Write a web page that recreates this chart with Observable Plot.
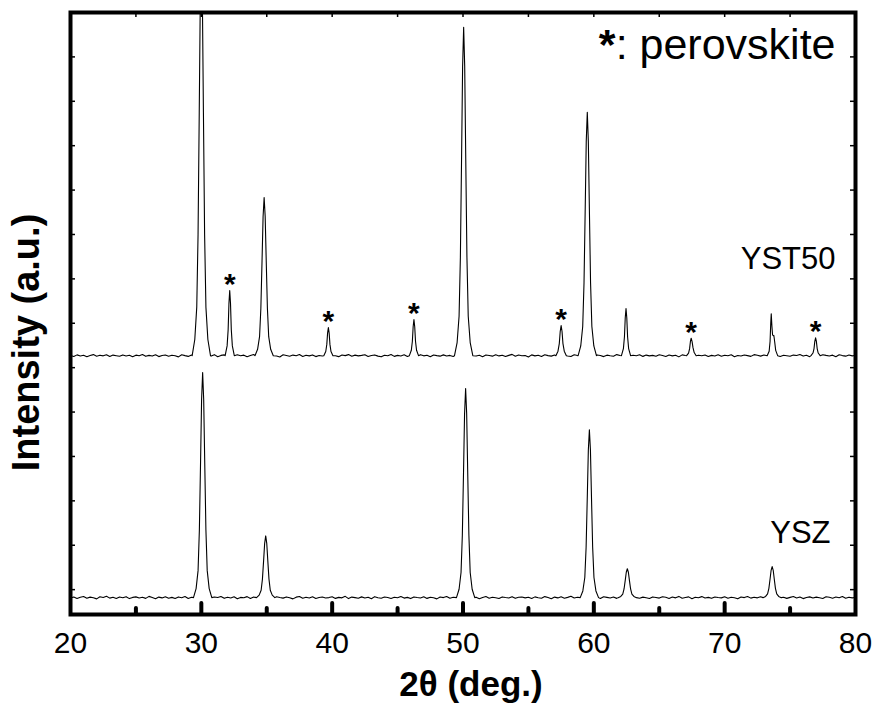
<!DOCTYPE html>
<html><head><meta charset="utf-8">
<script src="https://cdn.jsdelivr.net/npm/d3@7"></script>
<script src="https://cdn.jsdelivr.net/npm/@observablehq/plot@0.6"></script>
<style>body{margin:0;background:#fff}</style>
</head><body><div id="chart"></div>
<script>
// ---- data ----
const seriesNames = ["YSZ", "YST50"];
const yst50Offset = 5450;          // vertical stacking offset for YST50 (a.u.)
const baselineStart = 20, baselineStep = 0.25;  // 2θ grid of the baseline readings

const yszBaseline = [
372,395,360,388,405,366,391,378,352,399,383,410,369,387,361,394,376,402,358,385,
397,371,389,363,408,381,355,392,374,401,367,386,359,396,379,404,362,390,373,384,
368,399,377,356,393,382,407,364,388,371,398,353,385,376,403,361,392,380,366,395,
374,389,357,401,383,369,396,378,352,391,406,365,387,372,399,360,384,394,370,381,
398,363,386,375,409,358,392,380,367,397,373,388,354,402,379,366,393,384,361,390,
377,405,369,386,358,396,382,371,400,363,389,376,352,394,381,407,365,388,374,397,
362,385,399,370,391,356,383,404,368,390,377,359,396,382,371,402,364,387,393,375,
388,361,397,379,366,403,384,357,392,374,399,368,386,410,372,389,355,395,381,367,
394,376,359,401,385,370,392,363,398,380,356,389,373,405,367,391,378,360,396,383,
369,400,387,362,393,375,408,366,384,397,357,390,379,403,371,386,364,395,382,374,
398,365,389,377,353,394,381,406,369,388,375,399,361,392,384,367,401,378,390,363,
386,404,372,395,358,383,397,370,391,376,362,400,387,368,393,379,405,366,389,374,
385];

const yst50Baseline = [
385,362,398,374,391,357,383,404,369,388,376,401,360,393,380,366,397,372,389,355,
392,378,406,365,387,371,399,359,384,395,368,390,377,353,402,381,364,396,375,388,
361,394,382,370,403,357,386,398,373,389,365,400,379,392,356,384,407,369,391,377,
396,363,387,374,352,399,383,368,393,380,405,362,388,376,397,359,385,372,401,366,
389,378,358,394,381,404,367,392,375,386,400,361,383,397,370,354,391,379,408,364,
387,373,399,360,392,384,367,403,376,390,356,395,381,369,398,374,386,362,401,378,
365,393,380,405,371,388,357,396,383,369,400,375,391,362,387,409,366,394,379,385,
352,398,376,389,363,402,381,370,395,358,386,393,374,361,399,382,368,406,377,390,
371,397,385,359,392,378,366,404,383,372,396,355,388,380,401,364,393,375,386,369,
400,382,361,394,376,390,353,398,384,370,407,366,389,379,395,360,387,373,402,368,
391,377,399,356,385,372,396,381,364,403,388,370,394,359,383,397,375,362,389,380,
367,393,384,405,371,388,358,396,379,365,401,386,373,392,357,399,382,369,395,376,
384];

// peak profiles: [2θ, intensity]
const yszPeaks = [
  [[29.40,380],[29.60,583],[29.75,988],[29.85,1901],[29.94,3422],[30.02,4842],[30.10,5450],[30.18,4842],[30.26,3422],[30.35,1901],[30.45,988],[30.60,583],[30.80,380]],
  [[34.22,380],[34.42,436],[34.57,547],[34.67,797],[34.76,1214],[34.84,1603],[34.92,1770],[35.00,1603],[35.08,1214],[35.17,797],[35.27,547],[35.42,436],[35.62,380]],
  [[49.50,380],[49.70,568],[49.85,945],[49.95,1793],[50.04,3206],[50.12,4525],[50.20,5090],[50.28,4525],[50.36,3206],[50.45,1793],[50.55,945],[50.70,568],[50.90,380]],
  [[58.96,380],[59.16,531],[59.31,834],[59.41,1514],[59.50,2648],[59.58,3706],[59.66,4160],[59.74,3706],[59.82,2648],[59.91,1514],[60.01,834],[60.16,531],[60.36,380]],
  [[61.86,380],[62.06,406],[62.21,458],[62.31,575],[62.40,770],[62.48,952],[62.56,1030],[62.64,952],[62.72,770],[62.81,575],[62.91,458],[63.06,406],[63.26,380]],
  [[72.93,380],[73.13,408],[73.28,464],[73.38,590],[73.47,800],[73.55,996],[73.63,1080],[73.71,996],[73.79,800],[73.88,590],[73.98,464],[74.13,408],[74.33,380]]
];

const yst50Peaks = [
  [[29.30,380],[29.50,745],[29.65,1474],[29.75,3116],[29.84,5852],[29.92,8406],[30.00,9500],[30.08,8406],[30.16,5852],[30.25,3116],[30.35,1474],[30.50,745],[30.70,380]],
  [[31.82,380],[31.97,600],[32.05,967],[32.11,1554],[32.17,1848],[32.23,1554],[32.29,967],[32.37,600],[32.52,380]],
  [[34.10,380],[34.30,523],[34.45,808],[34.55,1449],[34.64,2518],[34.72,3515],[34.80,3943],[34.88,3515],[34.96,2518],[35.05,1449],[35.15,808],[35.30,523],[35.50,380]],
  [[39.36,380],[39.51,475],[39.59,634],[39.65,888],[39.71,1015],[39.77,888],[39.83,634],[39.91,475],[40.06,380]],
  [[45.90,380],[46.05,502],[46.13,706],[46.19,1032],[46.25,1195],[46.31,1032],[46.37,706],[46.45,502],[46.60,380]],
  [[49.35,380],[49.55,676],[49.70,1268],[49.80,2600],[49.89,4819],[49.97,6891],[50.05,7779],[50.13,6891],[50.21,4819],[50.30,2600],[50.40,1268],[50.55,676],[50.75,380]],
  [[57.10,380],[57.26,482],[57.36,652],[57.43,924],[57.50,1060],[57.57,924],[57.64,652],[57.74,482],[57.90,380]],
  [[58.80,380],[59.00,599],[59.15,1038],[59.25,2025],[59.34,3670],[59.42,5206],[59.50,5864],[59.58,5206],[59.66,3670],[59.75,2025],[59.85,1038],[60.00,599],[60.20,380]],
  [[62.11,380],[62.26,539],[62.34,805],[62.40,1230],[62.46,1443],[62.52,1230],[62.58,805],[62.66,539],[62.81,380]],
  [[67.09,380],[67.24,439],[67.32,538],[67.38,695],[67.44,774],[67.51,695],[67.58,560],[67.67,450],[67.82,380]],
  [[73.25,380],[73.40,480],[73.47,700],[73.52,1100],[73.56,1323],[73.61,1050],[73.66,850],[73.72,830],[73.76,834],[73.82,700],[73.90,500],[74.05,380]],
  [[76.60,380],[76.75,440],[76.83,541],[76.89,702],[76.95,783],[77.01,702],[77.07,541],[77.15,440],[77.30,380]]
];

const perovskitePeaks = [32.17, 39.71, 46.25, 57.50, 67.44, 76.95];
const perovskiteApex  = [1848, 1015, 1195, 1060, 774, 783];

const xTickLabels = [20, 30, 40, 50, 60, 70, 80];
const xMajorTicks = [30, 40, 50, 60, 70];
const xMinorTicks = [25, 35, 45, 55, 65, 75];
const xTopTicks   = [25, 30, 35, 40, 45, 50, 55, 60, 65, 70, 75];
const yTicks = [560, 1560, 2560, 3560, 4560, 5560, 6560, 7560, 8560, 9560, 10560, 11560, 12560];

// ---- build series ----
function buildSeries(baseline, peaks, offset, name) {
  const windows = peaks.map(p => [p[0][0], p[p.length - 1][0]]);
  const pts = [];
  baseline.forEach((v, i) => {
    const x = baselineStart + i * baselineStep;
    if (!windows.some(([a, b]) => x >= a && x <= b)) pts.push({x, y: v + offset, series: name});
  });
  peaks.forEach(p => p.forEach(([x, v]) => pts.push({x, y: v + offset, series: name})));
  return pts.sort((a, b) => a.x - b.x);
}
const yszData = buildSeries(yszBaseline, yszPeaks, 0, seriesNames[0]);
const yst50Data = buildSeries(yst50Baseline, yst50Peaks, yst50Offset, seriesNames[1]);
const stars = perovskitePeaks.map((x, i) => ({x, y: perovskiteApex[i] + yst50Offset}));

const W = 876, H = 708, ML = 70, MR = 21, MT = 12, MB = 94;
const PW = W - ML - MR, PH = H - MT - MB;
const font = "'Liberation Sans', Arial, Helvetica, sans-serif";

const chart = Plot.plot({
  width: W, height: H,
  marginLeft: ML, marginRight: MR, marginTop: MT, marginBottom: MB,
  x: {domain: [20, 80]},
  y: {domain: [0, 13560], axis: null},
  style: {fontFamily: font, background: "white", color: "black"},
  marks: [
    Plot.line(yszData, {x: "x", y: "y", stroke: "black", strokeWidth: 1.1, clip: true}),
    Plot.line(yst50Data, {x: "x", y: "y", stroke: "black", strokeWidth: 1.1, clip: true}),
    Plot.text(stars, {x: "x", y: "y", text: () => "*", fontSize: 30, fontWeight: "bold", dy: -6, fill: "black"}),
    Plot.tickX(xMajorTicks, {insetTop: PH - 11, stroke: "black", strokeWidth: 4, strokeLinecap: "round"}),
    Plot.tickX(xMinorTicks, {insetTop: PH - 6, stroke: "black", strokeWidth: 4, strokeLinecap: "round"}),
    Plot.tickX(xTopTicks, {insetBottom: PH - 5, stroke: "black", strokeWidth: 1.5}),
    Plot.tickY(yTicks, {insetRight: PW - 5, stroke: "black", strokeWidth: 1.5}),
    Plot.tickY(yTicks, {insetLeft: PW - 5, stroke: "black", strokeWidth: 1.5}),
    Plot.frame({stroke: "black", strokeWidth: 4}),
    Plot.axisX(xTickLabels, {tickSize: 0, tickPadding: 17, fontSize: 30, label: null, fill: "black"}),
    Plot.text(["2θ (deg.)"], {frameAnchor: "bottom", dy: 81, dx: 8, textAnchor: "middle", lineAnchor: "bottom", fontSize: 35, fontWeight: "bold", fill: "black"}),
    Plot.text(["Intensity (a.u.)"], {frameAnchor: "left", rotate: -90, dx: -32, dy: 29, textAnchor: "middle", lineAnchor: "bottom", fontSize: 38, fontWeight: "bold", fill: "black"}),
    Plot.text([": perovskite"], {frameAnchor: "top-right", dx: -20, dy: 46, textAnchor: "end", lineAnchor: "bottom", fontSize: 43, fill: "black"}),
    Plot.text(["*"], {frameAnchor: "top-right", dx: -240, dy: 46, textAnchor: "end", lineAnchor: "bottom", fontSize: 43, fontWeight: "bold", fill: "black"}),
    Plot.text([seriesNames[1]], {frameAnchor: "top-right", dx: -20, dy: 256, textAnchor: "end", lineAnchor: "bottom", fontSize: 31, fill: "black"}),
    Plot.text([seriesNames[0]], {frameAnchor: "top-right", dx: -25, dy: 530, textAnchor: "end", lineAnchor: "bottom", fontSize: 31, fill: "black"})
  ]
});
document.getElementById("chart").appendChild(chart);
</script>
</body></html>
